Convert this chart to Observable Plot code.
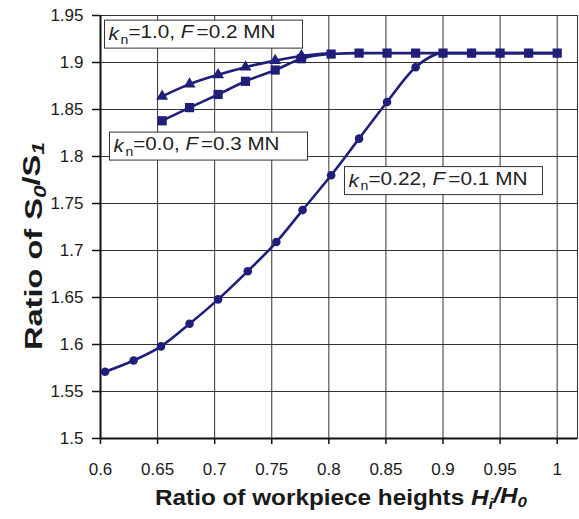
<!DOCTYPE html>
<html><head><meta charset="utf-8">
<script src="https://cdn.jsdelivr.net/npm/d3@7"></script>
<script src="https://cdn.jsdelivr.net/npm/@observablehq/plot@0.6"></script>
<style>body{margin:0;background:#fff}</style>
</head><body><div id="chart"></div>
<script>
// ---- data ----
const xTicks = [0.6, 0.65, 0.7, 0.75, 0.8, 0.85, 0.9, 0.95, 1];
const yTicks = [1.5, 1.55, 1.6, 1.65, 1.7, 1.75, 1.8, 1.85, 1.9, 1.95];

// kn=0.22, F=0.1 MN (circles)
const circleX = [0.604, 0.629, 0.653, 0.678, 0.703, 0.729, 0.754, 0.777, 0.802, 0.8265, 0.851, 0.876, 0.900, 0.925, 0.950, 0.975, 1.000];
const circleY = [1.571, 1.583, 1.598, 1.622, 1.648, 1.678, 1.709, 1.743, 1.780, 1.819, 1.858, 1.895, 1.910, 1.910, 1.910, 1.910, 1.910];
// kn=0.0, F=0.3 MN (squares)
const squareX = [0.654, 0.678, 0.703, 0.727, 0.753, 0.776, 0.802, 0.8265, 0.851, 0.876, 0.900, 0.925, 0.950, 0.975, 1.000];
const squareY = [1.838, 1.852, 1.866, 1.880, 1.892, 1.904, 1.909, 1.910, 1.910, 1.910, 1.910, 1.910, 1.910, 1.910, 1.910];
// kn=1.0, F=0.2 MN (triangles)
const triangleX = [0.654, 0.678, 0.703, 0.727, 0.753, 0.776];
const triangleY = [1.864, 1.877, 1.887, 1.895, 1.902, 1.907];

// annotation labels
const labelKn = ["1.0", "0.0", "0.22"];
const labelF = ["0.2", "0.3", "0.1"];
const labelX = [0.607, 0.6114, 0.8172];
const labelY = [1.9303, 1.8112, 1.7745];

// ---- build ----
const NAVY = "#1f1f7a";
const FONT = "'Liberation Sans', Arial, Helvetica, sans-serif";
const toRows = (xs, ys) => xs.map((x, i) => ({x, y: ys[i]}));
const circles = toRows(circleX, circleY);
const squares = toRows(squareX, squareY);
const triangles = toRows(triangleX, triangleY);
const triLine = triangles.concat([{x: squareX[6], y: squareY[6] + 0.001}]);
const labels = labelKn.map((k, i) => ({k, f: labelF[i], x: labelX[i], y: labelY[i]}));
const fmt = d => String(+d.toFixed(2));

const W = 579, H = 519;
const chart = Plot.plot({
  width: W, height: H,
  marginLeft: 100, marginRight: 2, marginTop: 15, marginBottom: 81,
  style: {fontFamily: FONT, fontSize: "17px", color: "#1a1a1a", background: "#fff"},
  x: {domain: [0.6, 1.0178]},
  y: {domain: [1.5, 1.95]},
  marks: [
    Plot.gridX(xTicks, {stroke: "#333", strokeOpacity: 1, strokeWidth: 1}),
    Plot.gridY(yTicks, {stroke: "#333", strokeOpacity: 1, strokeWidth: 1}),
    Plot.frame({stroke: "#333", strokeWidth: 1}),
    Plot.ruleX([xTicks[0]], {stroke: "#111", strokeWidth: 2}),
    Plot.ruleY([yTicks[0]], {stroke: "#111", strokeWidth: 2}),
    Plot.axisX(xTicks, {tickSize: 6, tickPadding: 18, tickFormat: fmt, label: null, fontSize: 17, stroke: "#111", strokeWidth: 1.5}),
    Plot.axisY(yTicks, {tickSize: 8, tickPadding: 9, tickFormat: fmt, label: null, fontSize: 17, stroke: "#111", strokeWidth: 1.5}),
    Plot.line(circles, {x: "x", y: "y", stroke: NAVY, strokeWidth: 2.6, curve: "monotone-x"}),
    Plot.line(triLine, {x: "x", y: "y", stroke: NAVY, strokeWidth: 2.6, curve: "monotone-x"}),
    Plot.line(squares, {x: "x", y: "y", stroke: NAVY, strokeWidth: 2.6, curve: "monotone-x"}),
    Plot.dot(circles, {x: "x", y: "y", r: 4.3, fill: NAVY, symbol: "circle"}),
    Plot.dot(triangles, {x: "x", y: "y", r: 4.4, fill: NAVY, symbol: "triangle"}),
    Plot.dot(squares, {x: "x", y: "y", r: 5.2, fill: NAVY, symbol: "square"}),
    Plot.text(labels, {x: "x", y: "y", text: d => `k n=${d.k}, F =${d.f} MN`, textAnchor: "start", fontSize: 19, fill: "#222"})
  ]
});
document.getElementById("chart").appendChild(chart);

const svg = d3.select(chart);
const labelLen = [167, 166, 179];
// rebuild label texts with italic / subscript parts and add boxes
svg.selectAll('g[aria-label="text"] text').each(function(_, i) {
  const d = labels[i];
  const t = d3.select(this);
  t.text(null);
  t.append("tspan").attr("font-style", "italic").text("k");
  t.append("tspan").attr("font-size", "0.68em").attr("dy", "0.3em").attr("dx", "0.12em").text("n");
  t.append("tspan").attr("dy", "-0.3em").text(`=${d.k}, `);
  t.append("tspan").attr("font-style", "italic").text("F");
  t.append("tspan").attr("dx", "0.15em").text(`=${d.f} MN`);
  t.attr("textLength", labelLen[i]).attr("lengthAdjust", "spacingAndGlyphs");
  const bb = this.getBBox();
  d3.select(this.parentNode).insert("rect", () => this)
    .attr("transform", t.attr("transform"))
    .attr("x", bb.x - 4).attr("y", bb.y + bb.height / 2 - 14)
    .attr("width", 198).attr("height", 28)
    .attr("fill", "#fff").attr("stroke", "#333").attr("stroke-width", 1);
});

// axis titles
const yl = svg.append("text")
  .attr("transform", `translate(42,${246}) rotate(-90)`)
  .attr("text-anchor", "middle")
  .attr("textLength", 208).attr("lengthAdjust", "spacingAndGlyphs")
  .attr("font-family", FONT).attr("font-weight", "bold").attr("font-size", 23).attr("fill", "#1a1a1a");
yl.append("tspan").text("Ratio of S");
yl.append("tspan").attr("font-style", "italic").attr("font-size", "0.7em").attr("dy", "0.25em").text("0");
yl.append("tspan").attr("dy", "-0.25em").text("/S");
yl.append("tspan").attr("font-style", "italic").attr("font-size", "0.7em").attr("dy", "0.25em").text("1");

const xl = svg.append("text")
  .attr("x", 341).attr("y", 505)
  .attr("text-anchor", "middle")
  .attr("textLength", 372).attr("lengthAdjust", "spacingAndGlyphs")
  .attr("font-family", FONT).attr("font-weight", "bold").attr("font-size", 22).attr("fill", "#1a1a1a");
xl.append("tspan").text("Ratio of workpiece heights ");
xl.append("tspan").attr("font-style", "italic").text("H");
xl.append("tspan").attr("font-style", "italic").attr("font-size", "0.7em").attr("dy", "0.25em").text("i");
xl.append("tspan").attr("font-style", "italic").attr("dy", "-0.25em").text("/H");
xl.append("tspan").attr("font-style", "italic").attr("font-size", "0.7em").attr("dy", "0.25em").text("0");
</script>
</body></html>
